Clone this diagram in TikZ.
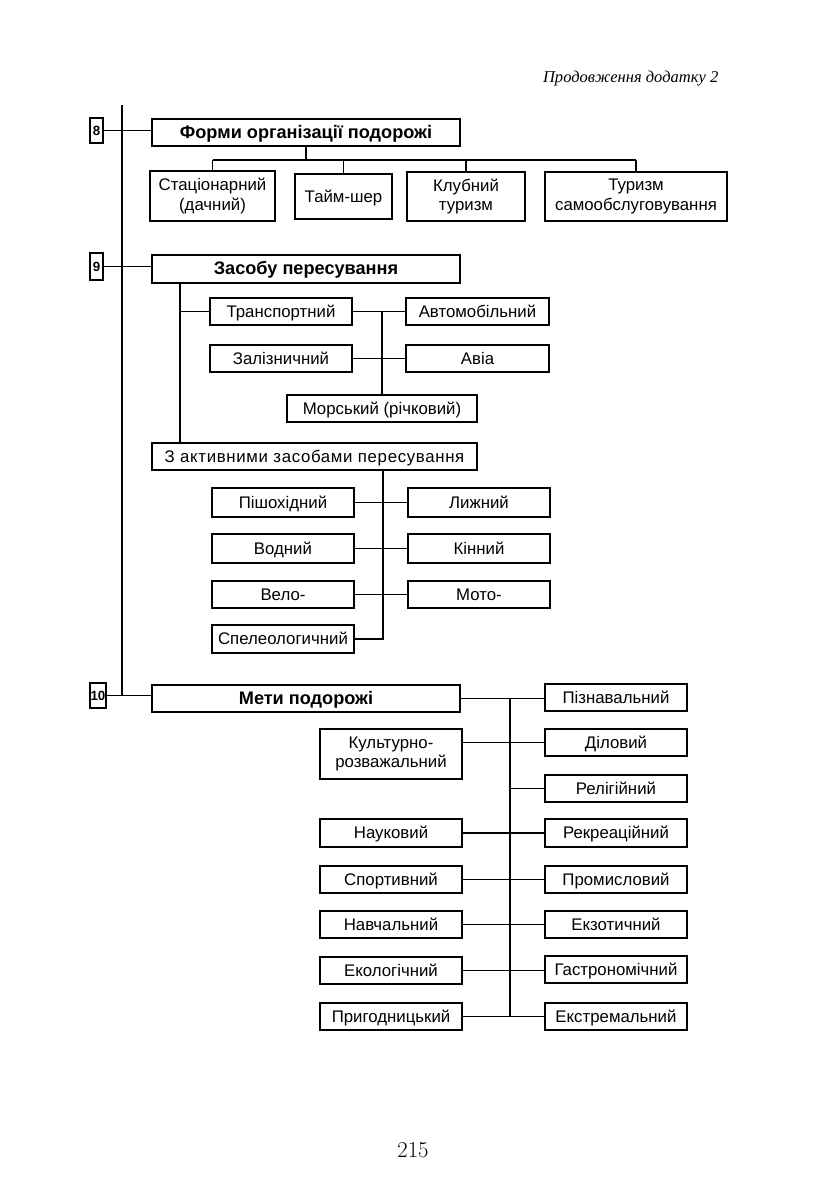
\documentclass[tikz,border=0pt]{standalone}
\usepackage{fontspec}
\setmainfont{Liberation Sans}
\newfontfamily\hdrfont{Liberation Serif}
\newcommand{\pnumfont}{\fontspec{Latin Modern Roman}}
\newcommand{\pbox}[7][]{%
  \pgfmathsetmacro\cxx{(#3+#5)/2}%
  \pgfmathsetmacro\cyy{(#4+#6)/2}%
  \pgfmathsetmacro\ww{(#5-#3)*0.75}%
  \pgfmathsetmacro\hh{(#6-#4)*0.75}%
  \node[bx,#1,minimum width=\ww pt,minimum height=\hh pt] (#2) at (\cxx,\cyy) {#7};}
\tikzset{
  bx/.style={draw, line width=1pt, inner sep=0pt, align=center,
    text height=9.3pt, text depth=0.9pt,
    font=\fontsize{12.6}{14.5}\selectfont},
  two/.style={text height=, text depth=},
  ttl/.style={line width=1.5pt, font=\fontsize{13.6}{15}\selectfont\bfseries},
  numbx/.style={line width=1.3pt, text height=7.5pt, text depth=0pt, font=\fontsize{10}{11}\selectfont\bfseries},
  conn/.style={line width=0.9pt},
  mainln/.style={line width=1.7pt}
}
\begin{document}
\begin{tikzpicture}[x=0.75pt,y=-0.75pt]
\useasboundingbox (0,0) rectangle (830,1189);
% header
\node[anchor=base east, font=\hdrfont\itshape\fontsize{12.4}{14}\selectfont] (hdr) at (723,82) {Продовження додатку 2};
% main vertical
\coordinate (mtop) at (122,105);
% section 8
\pbox[numbx]{n8}{90}{118}{103}{143}{8}
\pbox[ttl]{t8}{152}{119}{460}{146}{Форми організації подорожі}
\pbox[two]{c81}{150}{171}{275}{221}{Стаціонарний\\(дачний)}
\pbox{c82}{295}{174}{392}{219}{Тайм-шер}
\pbox[two]{c83}{407}{172}{525}{221}{Клубний\\туризм}
\pbox[two]{c84}{545}{172}{727}{221}{Туризм\\самообслуговування}
\coordinate (b8) at (306,160);
\draw[conn] (t8.south) -- (b8);
\draw[conn] (c81.north |- b8) -- (c84.north |- b8);
\foreach \c in {c81,c82,c83,c84} \draw[conn] (\c.north |- b8) -- (\c.north);
\draw[conn] (n8.east) -- (n8.east -| t8.west);
% section 9
\pbox[numbx]{n9}{90}{253}{103}{280}{9}
\pbox[ttl]{t9}{152}{255}{460}{283}{Засобу пересування}
\draw[conn] (n9.east) -- (n9.east -| t9.west);
\pbox{tr}{210}{298}{352}{325}{Транспортний}
\pbox{avt}{406}{298}{549}{325}{Автомобільний}
\pbox{zl}{210}{345}{352}{372}{Залізничний}
\pbox{avia}{406}{345}{549}{372}{Авіа}
\pbox{mor}{287}{395}{477}{422}{Морський (річковий)}
\pbox[font=\fontsize{12.6}{14.5}\selectfont\addfontfeature{LetterSpace=4}]{act}{152}{443}{477}{470}{З активними засобами пересування}
\coordinate (v9) at (180,283);
\draw[conn] (v9) -- (v9 |- act.north);
\draw[conn] (v9 |- tr.west) -- (tr.west);
\draw[conn] (tr.east) -- (avt.west);
\draw[conn] (zl.east) -- (avia.west);
\draw[conn] (tr.east -| mor.north) -- (mor.north);
\pbox{psh}{212}{488}{354}{517}{Пішохідний}
\pbox{lyz}{408}{488}{550}{517}{Лижний}
\pbox{vod}{212}{534}{354}{563}{Водний}
\pbox{kin}{408}{534}{550}{563}{Кінний}
\pbox{vel}{212}{581}{354}{608}{Вело-}
\pbox{mot}{408}{581}{550}{608}{Мото-}
\pbox{spl}{212}{625}{354}{653}{Спелеологичний}
\coordinate (va) at (383,470);
\draw[conn] (va) -- (va |- spl.east) -- (spl.east);
\draw[conn] (psh.east) -- (lyz.west);
\draw[conn] (vod.east) -- (kin.west);
\draw[conn] (vel.east) -- (mot.west);
% section 10
\pbox[numbx]{n10}{90}{683}{106}{708}{10}
\pbox[ttl]{t10}{152}{685}{460}{712}{Мети подорожі}
\draw[conn] (n10.east) -- (n10.east -| t10.west);
\draw[mainln] (mtop) -- (mtop |- n10.east);
\pbox{pzn}{545}{684}{687}{711}{Пізнавальний}
\pbox{dil}{545}{729}{687}{756}{Діловий}
\pbox{rel}{545}{775}{687}{802}{Релігійний}
\pbox{rkr}{545}{819}{687}{847}{Рекреаційний}
\pbox{prm}{545}{866}{687}{893}{Промисловий}
\pbox{ekz}{545}{911}{687}{938}{Екзотичний}
\pbox{gst}{545}{956}{687}{983}{Гастрономічний}
\pbox{ekt}{545}{1003}{687}{1030}{Екстремальний}
\pbox[two]{kul}{320}{729}{462}{779}{Культурно-\\розважальний}
\pbox{nau}{320}{819}{462}{847}{Науковий}
\pbox{spo}{320}{866}{462}{893}{Спортивний}
\pbox{nav}{320}{911}{462}{938}{Навчальний}
\pbox{eko}{320}{957}{462}{984}{Екологічний}
\pbox{prg}{320}{1003}{462}{1030}{Пригодницький}
\coordinate (x510) at (510,0);
\draw[conn] (t10.east) -- (t10.east -| pzn.west);
\draw[conn] (t10.east -| x510) -- (prg.east -| x510);
\draw[conn] (dil.west -| kul.east) -- (dil.west);
\draw[conn] (rel.west -| x510) -- (rel.west);
\draw[conn] (nau.east) -- (nau.east -| rkr.west);
\draw[conn] (spo.east) -- (spo.east -| prm.west);
\draw[conn] (nav.east) -- (nav.east -| ekz.west);
\draw[conn] (eko.east) -- (eko.east -| gst.west);
\draw[conn] (prg.east) -- (prg.east -| ekt.west);
% page number
\node[font=\pnumfont\fontsize{17}{20}\selectfont] (pnum) at (413,1150) {215};
\end{tikzpicture}
\end{document}
